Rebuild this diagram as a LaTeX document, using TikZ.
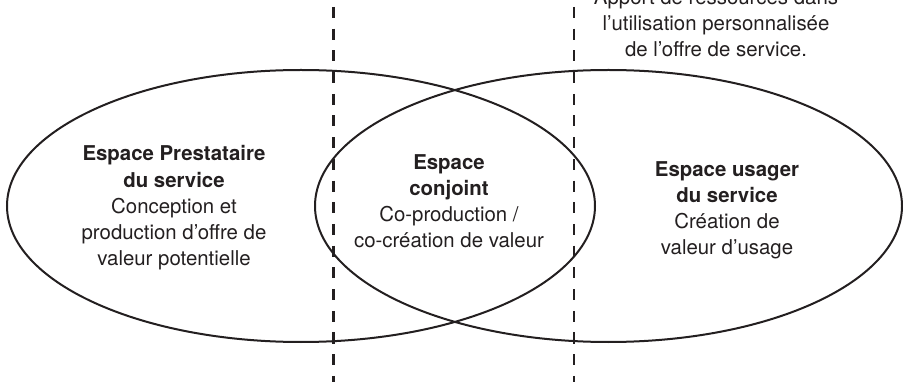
\documentclass[tikz,border=0pt]{standalone}
\usepackage{fontspec}
\setmainfont{TeX Gyre Heros}
\definecolor{ink}{HTML}{231F20}
\begin{document}
\begin{tikzpicture}[x=1pt,y=-1pt,
  oval/.style={draw=ink,line width=2pt},
  divider/.style={draw=ink,line width=2.6pt,dash pattern=on 11pt off 10.7pt},
  label/.style={align=center,text=ink,inner sep=0pt,anchor=base,font=\fontsize{20.4}{26.3}\selectfont}]
\useasboundingbox (0,0) rectangle (903,382);
\draw[oval] (301,206) ellipse [x radius=294, y radius=136];
\draw[oval] (608.5,206) ellipse [x radius=293.5, y radius=136];
\coordinate (d1top) at (333.3,7);
\coordinate (d1bot) at (333.3,382);
\coordinate (d2top) at (574,7);
\coordinate (d2bot) at (574,382);
\draw[divider] (d1top) -- (d1bot);
\draw[divider] (d2top) -- (d2bot);
\node[label] (prest) at (174,266) {\textbf{Espace Prestataire}\\\textbf{du service}\\Conception et\\production d’offre de\\valeur potentielle};
\node[label] (conj) at (449,248) {\textbf{Espace}\\\textbf{conjoint}\\Co-production /\\co-création de valeur};
\node[label] (usag) at (727,255) {\textbf{Espace usager}\\\textbf{du service}\\Création de\\valeur d’usage};
\node[label] (apport) at (716,57) {Apport de ressources dans\\l’utilisation personnalisée\\de l’offre de service.};
\end{tikzpicture}
\end{document}
